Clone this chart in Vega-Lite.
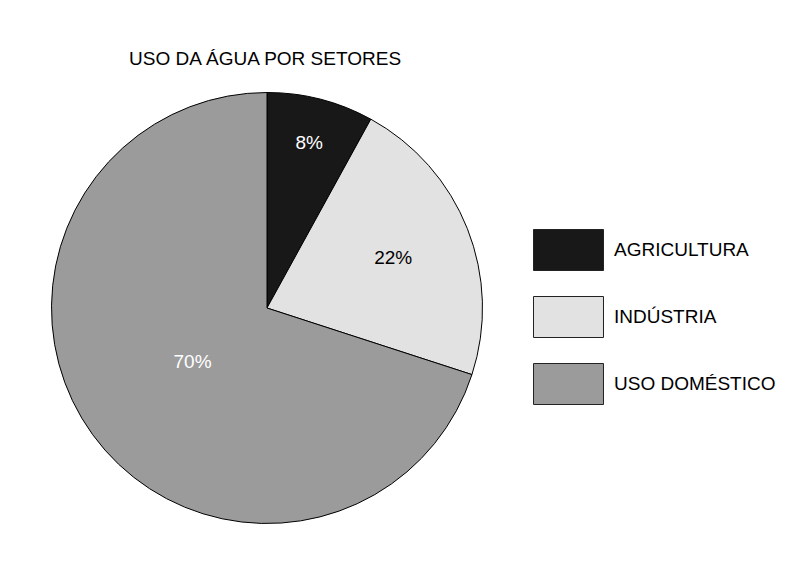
{
  "$schema": "https://vega.github.io/schema/vega-lite/v6.json",
  "width": 431,
  "height": 431,
  "autosize": "none",
  "padding": {"left": 51.5, "top": 92.5, "right": 323.5, "bottom": 40.5},
  "background": "white",
  "config": {"view": {"stroke": null}, "font": "Liberation Sans"},
  "title": {
    "text": "USO DA ÁGUA POR SETORES",
    "anchor": "start",
    "dx": 79.5,
    "offset": 22,
    "fontSize": 19,
    "fontWeight": "normal",
    "color": "black",
    "font": "Liberation Sans"
  },
  "data": {
    "values": [
      {"setor": "AGRICULTURA", "valor": 8, "rotulo": "8%", "ordem": 1},
      {"setor": "INDÚSTRIA", "valor": 22, "rotulo": "22%", "ordem": 2},
      {"setor": "USO DOMÉSTICO", "valor": 70, "rotulo": "70%", "ordem": 3}
    ]
  },
  "encoding": {
    "theta": {"field": "valor", "type": "quantitative", "stack": true},
    "order": {"field": "ordem", "type": "quantitative"}
  },
  "layer": [
    {
      "mark": {"type": "arc", "stroke": "black", "strokeWidth": 1},
      "encoding": {
        "color": {
          "field": "setor",
          "type": "nominal",
          "scale": {
            "domain": ["AGRICULTURA", "INDÚSTRIA", "USO DOMÉSTICO"],
            "range": ["#181818", "#e2e2e2", "#9b9b9b"]
          },
          "legend": {
            "title": null,
            "orient": "none",
            "legendX": 496,
            "legendY": 136.5,
            "symbolType": "M-1.707,-1H1.707V1H-1.707Z",
            "symbolSize": 1681,
            "symbolStrokeColor": "#222222",
            "symbolStrokeWidth": 1,
            "symbolOpacity": 1,
            "labelFontSize": 19,
            "labelFont": "Liberation Sans",
            "labelColor": "black",
            "labelOffset": 24.5,
            "rowPadding": 21,
            "padding": 0,
            "labelLimit": 300
          }
        }
      }
    },
    {
      "mark": {"type": "text", "fontSize": 19, "font": "Liberation Sans"},
      "encoding": {
        "text": {"field": "rotulo"},
        "radius": {
          "field": "valor",
          "type": "quantitative",
          "scale": {"type": "pow", "exponent": 0.1, "domain": [8, 70], "range": [170, 92]}
        },
        "color": {
          "condition": {"test": "datum.setor === 'INDÚSTRIA'", "value": "black"},
          "value": "white"
        }
      }
    }
  ]
}
